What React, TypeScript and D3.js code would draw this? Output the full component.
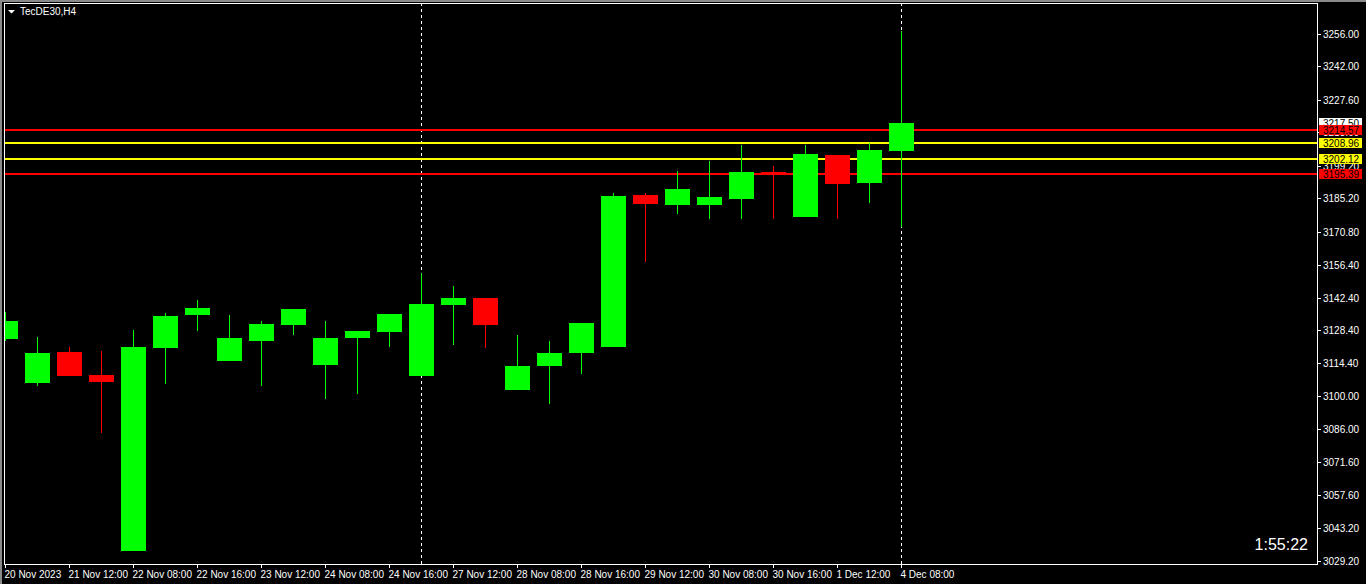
import * as d3 from "d3";

// TecDE30 H4 candles
const opens = [3124.7, 3105.7, 3119.1, 3109.2, 3033.5, 3120.8, 3135.0, 3115.2, 3123.8, 3130.7, 3113.5, 3124.9, 3127.7, 3108.8, 3139.3, 3142.3, 3102.8, 3113.1, 3118.6, 3121.2, 3186.6, 3182.3, 3182.3, 3184.8, 3196.5, 3177.1, 3203.8, 3191.7, 3205.5];
const highs = [3136.3, 3125.5, 3121.2, 3119.5, 3128.5, 3135.8, 3141.4, 3135.0, 3132.4, 3137.6, 3132.4, 3127.9, 3135.4, 3153.0, 3147.4, 3142.3, 3126.4, 3123.8, 3131.5, 3187.4, 3187.4, 3196.9, 3201.2, 3208.1, 3199.0, 3208.1, 3203.8, 3208.9, 3257.1];
const lows = [3123.8, 3104.5, 3108.8, 3084.2, 3033.5, 3105.1, 3128.1, 3115.2, 3104.5, 3126.3, 3098.9, 3101.0, 3121.2, 3108.8, 3122.1, 3120.8, 3102.8, 3096.7, 3109.6, 3121.2, 3157.8, 3178.4, 3176.3, 3176.3, 3176.3, 3177.1, 3176.3, 3183.1, 3172.8];
const closes = [3132.4, 3118.6, 3108.8, 3106.2, 3121.2, 3134.6, 3138.0, 3125.1, 3131.1, 3137.6, 3125.1, 3127.9, 3135.4, 3139.7, 3142.3, 3130.7, 3113.1, 3118.6, 3131.5, 3186.1, 3182.7, 3189.1, 3185.7, 3196.5, 3195.6, 3204.2, 3191.3, 3205.9, 3217.5];

const timeLabels = ["20 Nov 2023", "21 Nov 12:00", "22 Nov 08:00", "22 Nov 16:00", "23 Nov 12:00", "24 Nov 08:00", "24 Nov 16:00", "27 Nov 12:00", "28 Nov 08:00", "28 Nov 16:00", "29 Nov 12:00", "30 Nov 08:00", "30 Nov 16:00", "1 Dec 12:00", "4 Dec 08:00"];
const priceTicks = ["3256.00", "3242.00", "3227.60", "3213.60", "3199.20", "3185.20", "3170.80", "3156.40", "3142.40", "3128.40", "3114.40", "3100.00", "3086.00", "3071.60", "3057.60", "3043.20", "3029.20"];

const levelPrices = [3214.57, 3208.96, 3202.12, 3195.39];
const levelColors = ["#ff0000", "#ffff00", "#ffff00", "#ff0000"];
const separatorBars = [13, 28];
const lastPrice = 3217.5;

const W = 1366;
const H = 584;
const frame = { left: 4, top: 3, right: 1317, bottom: 564 };
const font = "'Liberation Sans', Arial, sans-serif";

export default function App() {
  const x = d3.scaleLinear().domain([0, 28]).range([5, 901]);
  const y = d3.scaleLinear().domain([3029.2, 3256]).range([561, 33.5]);
  const bodyW = 25;

  return (
    <div>
      <style>{"body{margin:0;background:#000}"}</style>
      <svg width={W} height={H} style={{ display: "block", background: "#000" }}>
        <defs>
          <clipPath id="plot">
            <rect x={frame.left + 1} y={frame.top + 1} width={frame.right - frame.left - 1} height={frame.bottom - frame.top - 1} />
          </clipPath>
        </defs>

        {/* window edge */}
        <rect x={0} y={0} width={2} height={H} fill="#8a8a8a" />
        <rect x={0} y={0} width={W} height={2} fill="#8a8a8a" />

        {/* frame */}
        <rect x={frame.left + 0.5} y={frame.top + 0.5} width={frame.right - frame.left} height={frame.bottom - frame.top} fill="none" stroke="#fff" strokeWidth={1} />

        <g clipPath="url(#plot)">
          {/* period separators */}
          {separatorBars.map((b) => (
            <line key={b} x1={x(b) + 0.5} x2={x(b) + 0.5} y1={frame.top} y2={frame.bottom} stroke="#fff" strokeDasharray="3,3" />
          ))}

          {/* horizontal levels */}
          {levelPrices.map((p, i) => (
            <line key={p} x1={frame.left} x2={frame.right} y1={Math.round(y(p))} y2={Math.round(y(p))} stroke={levelColors[i]} strokeWidth={2} />
          ))}

          {/* candles */}
          {opens.map((o, i) => {
            const c = closes[i];
            const col = c >= o ? "#00ff00" : "#ff0000";
            const cx = x(i);
            const top = Math.round(y(Math.max(o, c)));
            const bot = Math.round(y(Math.min(o, c)));
            return (
              <g key={i}>
                <line x1={cx + 0.5} x2={cx + 0.5} y1={Math.round(y(highs[i]))} y2={Math.round(y(lows[i]))} stroke={col} strokeWidth={1} />
                <rect x={cx - 12} y={top} width={bodyW} height={Math.max(1, bot - top)} fill={col} />
              </g>
            );
          })}
        </g>

        {/* title */}
        <path d="M8,10 L15,10 L11.5,13.5 Z" fill="#fff" />
        <text x={20} y={15} fill="#fff" fontFamily={font} fontSize={10}>TecDE30,H4</text>

        {/* price axis */}
        {priceTicks.map((t) => {
          const ty = Math.round(y(+t)) + 0.5;
          return (
            <g key={t}>
              <line x1={frame.right} x2={frame.right + 4} y1={ty} y2={ty} stroke="#fff" />
              <text x={1323} y={ty + 3.5} fill="#fff" fontFamily={font} fontSize={10}>{t}</text>
            </g>
          );
        })}

        {/* current price label */}
        <rect x={1319} y={Math.round(y(lastPrice)) - 5} width={43} height={10} fill="#fff" />
        <text x={1323} y={Math.round(y(lastPrice)) + 4} fill="#000" fontFamily={font} fontSize={10}>{lastPrice.toFixed(2)}</text>

        {/* level labels */}
        {levelPrices.map((p, i) => {
          const ly = Math.round(y(p));
          return (
            <g key={p}>
              <rect x={1319} y={ly - 5} width={43} height={10} fill={levelColors[i]} />
              <text x={1323} y={ly + 4} fill="#000" fontFamily={font} fontSize={10}>{p.toFixed(2)}</text>
            </g>
          );
        })}

        {/* time axis */}
        {timeLabels.map((t, i) => {
          const tx = x(i * 2) + 0.5;
          return (
            <g key={t}>
              <line x1={tx} x2={tx} y1={frame.bottom} y2={frame.bottom + 4} stroke="#fff" />
              <text x={tx - 1} y={578} fill="#fff" fontFamily={font} fontSize={10}>{t}</text>
            </g>
          );
        })}

        {/* bar timer */}
        <text x={1308} y={550} textAnchor="end" fill="#fff" fontFamily={font} fontSize={16}>1:55:22</text>
      </svg>
    </div>
  );
}
